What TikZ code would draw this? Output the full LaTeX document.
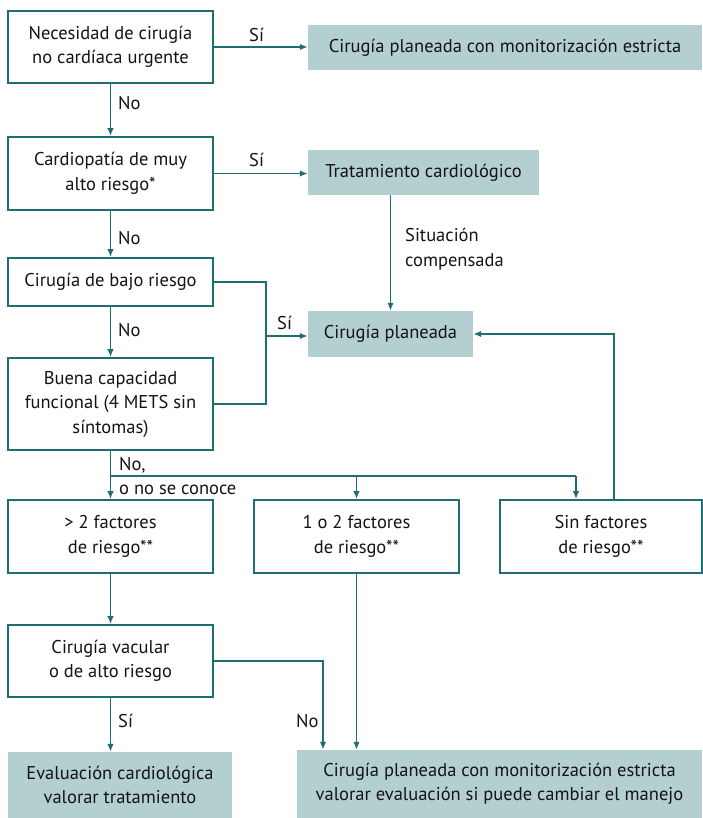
\documentclass[tikz,border=0pt]{standalone}
\usepackage{fontspec}
\setmainfont{PT Sans}
\usetikzlibrary{arrows.meta}
\definecolor{tealline}{RGB}{30,110,115}
\definecolor{tealfill}{RGB}{180,207,207}
\definecolor{inktext}{RGB}{20,20,20}
\begin{document}
\begin{tikzpicture}[x=1pt,y=-1pt,
  font=\fontsize{18.5}{24.5}\selectfont, text=inktext,
  qbox/.style={draw=tealline, line width=1.7pt, fill=white, align=center,
    minimum width=205, inner sep=0pt},
  rbox/.style={fill=tealfill, draw=none, align=center, inner sep=0pt},
  arr/.style={draw=tealline, line width=1.7pt, -{Latex[length=8pt,width=6.5pt]}},
  ln/.style={draw=tealline, line width=1.7pt},
  lbl/.style={inner sep=0pt, anchor=base west}]
\useasboundingbox (0,0) rectangle (703,818);

% decision boxes
\node[qbox, minimum height=72] (n1) at (110.5,47) {Necesidad de cirugía\\no cardíaca urgente};
\node[qbox, minimum height=73] (n2) at (110.5,173.5) {Cardiopatía de muy\\alto riesgo*};
\node[qbox, minimum height=48] (n3) at (110.5,282) {Cirugía de bajo riesgo};
\node[qbox, minimum height=92] (n4) at (110.5,404) {Buena capacidad\\funcional (4 METS sin\\síntomas)};
\node[qbox, minimum height=73] (n5) at (110.5,536.5) {> 2 factores\\de riesgo**};
\node[qbox, minimum height=73] (n6) at (356.5,536.5) {1 o 2 factores\\de riesgo**};
\node[qbox, minimum height=73, minimum width=202] (n7) at (601,536.5) {Sin factores\\de riesgo**};
\node[qbox, minimum height=72] (n8) at (110.5,661) {Cirugía vacular\\o de alto riesgo};

% outcome boxes
\node[rbox, minimum width=394, minimum height=45] (s1) at (505,47.5) {Cirugía planeada con monitorización estricta};
\node[rbox, minimum width=231, minimum height=45] (s2) at (423.5,172.5) {Tratamiento cardiológico};
\node[rbox, minimum width=165, minimum height=46] (s3) at (390.5,334) {Cirugía planeada};
\node[rbox, minimum width=224, minimum height=66] (s4) at (120,785) {Evaluación cardiológica\\valorar tratamiento};
\node[rbox, minimum width=405, minimum height=68] (s5) at (499.5,784) {Cirugía planeada con monitorización estricta\\valorar evaluación si puede cambiar el manejo};

% junction points
\coordinate (jlow) at (266,336);
\coordinate (jsplit) at (110.5,476);
\coordinate (jright) at (576,476);
\coordinate (jback) at (614,500);
\coordinate (jno) at (323,662);

% connectors
\draw[arr] (n1.east) -- (n1.east -| s1.west);
\node[lbl] (l1) at (249,42) {Sí};
\draw[arr] (n1.south) -- (n2.north);
\node[lbl] (l2) at (118,110) {No};

\draw[arr] (n2.east) -- (n2.east -| s2.west);
\node[lbl] (l3) at (249,167) {Sí};
\draw[arr] (n2.south) -- (n3.north);
\node[lbl] (l4) at (118,244) {No};

\draw[arr] (s2.south -| s3.north) -- (s3.north);
\node[lbl, align=left, anchor=north west] (l5) at (405,228) {Situación\\compensada};

\draw[ln] (n3.east) -| (jlow) |- (n4.east);
\draw[arr] (jlow) -- (jlow -| s3.west);
\node[lbl] (l6) at (277,329) {Sí};
\draw[arr] (n3.south) -- (n4.north);
\node[lbl] (l7) at (118,336) {No};

\draw[arr] (n4.south) -- (n5.north);
\draw[ln] (jsplit) -- (jright);
\draw[arr] (jsplit -| n6.north) -- (n6.north);
\draw[arr] (jright) -- (jright |- n7.north);
\node[lbl] (l8) at (119,470) {No,};
\node[lbl] (l9) at (119,494) {o no se conoce};

\draw[arr] (jback) |- (s3.east);

\draw[arr] (n5.south) -- (n8.north);
\draw[arr] (n8.south) -- (n8.south |- s4.north);
\node[lbl] (l10) at (118,727) {Sí};
\draw[arr] (n8.east) -| (jno) -- (jno |- s5.north);
\node[lbl] (l11) at (296,727) {No};
\draw[arr] (n6.south) -- (n6.south |- s5.north);
\end{tikzpicture}
\end{document}
